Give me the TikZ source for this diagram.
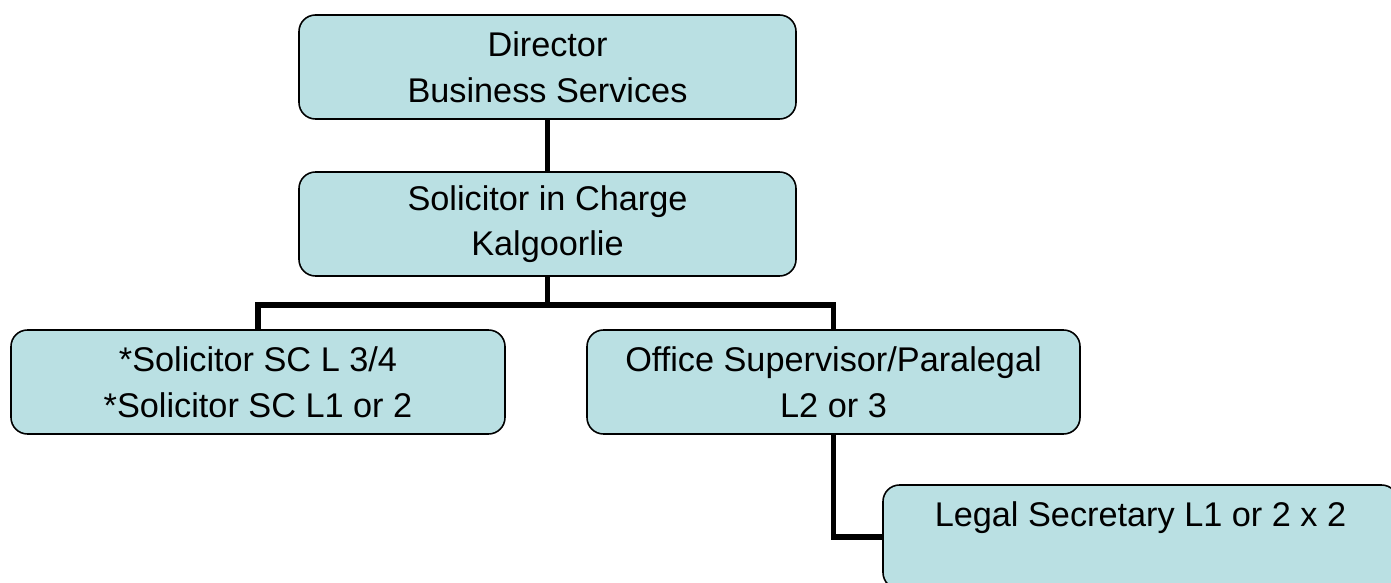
\documentclass[tikz,border=0pt]{standalone}
\usepackage{fontspec}
\setmainfont{Liberation Sans}
\usepackage{tikz}
\usetikzlibrary{positioning, calc}
\definecolor{KLFill}{RGB}{186,224,227}
\definecolor{KLLine}{RGB}{0,0,0}

\begin{document}
\begin{tikzpicture}[
          role/.style={rectangle, rounded corners=0.33cm, draw=KLLine, line width=0.9pt,
                       fill=KLFill, minimum width=9.94cm, minimum height=2.08cm,
                       font=\fontsize{19.5}{26}\selectfont, align=center, inner sep=0pt},
          wire/.style={line width=3.4pt, draw=KLLine}
        ]
        \useasboundingbox (0,0) rectangle (27.82,11.66);

        % Top of the office
        \node[role] (dir) at (10.95, 10.32) {Director\\Business Services};
        \node[role] (sic) at (10.95, 7.18) {Solicitor in Charge\\Kalgoorlie};

        % Second level
        \node[role, minimum width=9.88cm] (sol) at (5.16, 4.02)
              {*Solicitor SC L 3/4\\*Solicitor SC L1 or 2};
        \node[role, minimum width=9.86cm] (osp) at (16.67, 4.02)
              {Office Supervisor/Paralegal\\L2 or 3};

        % Support staff (runs off the page edge)
        \node[role, minimum width=10.3cm] (sec) at (22.81, 0.92)
              {Legal Secretary L1 or 2 x 2\\~};

        % Connectors
        \coordinate (bar) at (10.95, 5.56);
        \draw[wire] (dir.south) -- (sic.north);
        \draw[wire] (sic.south) -- (bar) -| (sol.north);
        \draw[wire] (bar) -| (osp.north);
        \draw[wire] (osp.south) |- (sec.west);
      \end{tikzpicture}
\end{document}
